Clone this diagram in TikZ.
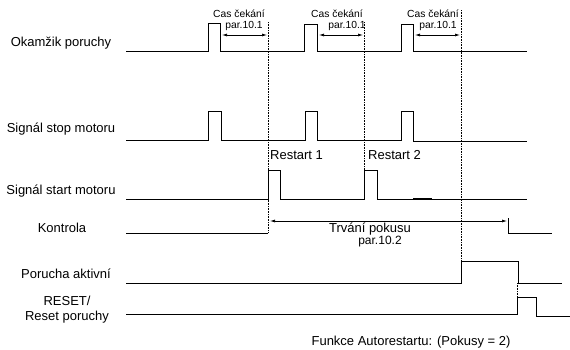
\documentclass[tikz,border=0pt]{standalone}
\usepackage{fontspec}
\setmainfont{Liberation Sans}
\usetikzlibrary{arrows.meta}

\begin{document}
\begin{tikzpicture}[
  x=1pt, y=-1pt,
  sig/.style={line width=0.9pt, line join=miter},
  guide/.style={densely dotted, line width=0.6pt},
  dimarr/.style={{Latex[length=5pt,width=3pt]}-{Latex[length=5pt,width=3pt]}, line width=0.7pt},
  lbl/.style={font=\fontsize{13}{15}\selectfont, align=center, inner sep=0pt},
  note/.style={font=\fontsize{10.3}{11}\selectfont, inner sep=0pt}
]
\useasboundingbox (0,0) rectangle (570,349);

% signal names
\node[lbl] (fault) at (61,43) {Okamžik poruchy};
\node[lbl] (stop) at (61,129) {Signál stop motoru};
\node[lbl] (start) at (61,191) {Signál start motoru};
\node[lbl] (check) at (62,228) {Kontrola};
\node[lbl] (active) at (66,274) {Porucha aktivní};
\node[lbl] (reset) at (67,310) {RESET/\\Reset poruchy};

% guide lines
\draw[guide] (268,22) -- (268,233);
\draw[guide] (364,22) -- (364,170);
\draw[guide] (461,10) -- (461,261);
\draw[guide] (517,283) -- (517,297);

% waveforms
\draw[sig] (126,51.5) -- (208,51.5) -- (208,23) -- (220,23) -- (220,51.5)
  -- (304,51.5) -- (304,24) -- (317,24) -- (317,51.5)
  -- (401,51.5) -- (401,24) -- (413,24) -- (413,51.5) -- (527,51.5);
\draw[sig] (126,140) -- (208,140) -- (208,111) -- (221,111) -- (221,140)
  -- (305,140) -- (305,111) -- (317,111) -- (317,140)
  -- (401,140) -- (401,111) -- (413,111) -- (413,141) -- (527,141);
\draw[sig] (126,199) -- (268,199) -- (268,170) -- (280,170) -- (280,199)
  -- (364,199) -- (364,170) -- (377,170) -- (377,199) -- (527,199);
\draw[line width=1.6pt] (413,199) -- (432,199);
\draw[sig] (126,233) -- (268,233);
\draw[sig] (508,218) -- (508,233) -- (552,233);
\draw[sig] (126,283) -- (461,283) -- (461,261) -- (518,261) -- (518,283) -- (562,283);
\draw[sig] (126,314) -- (517,314) -- (517,297) -- (536,297) -- (536,316) -- (570,316);

% waiting times
\draw[dimarr] (222,35) -- (267,35);
\draw[dimarr] (319,35) -- (363,35);
\draw[dimarr] (415,35) -- (460,35);
\node[note] (wait1) at (239,14) {Cas čekání};
\node[note] (par1) at (244,26) {par.10.1};
\node[note] (wait2) at (337,14) {Cas čekání};
\node[note] (par2) at (347,26) {par.10.1};
\node[note] (wait3) at (433,14) {Cas čekání};
\node[note] (par3) at (438,26) {par.10.1};

% restarts
\node[lbl, anchor=west] (rst1) at (270,155) {Restart 1};
\node[lbl, anchor=west] (rst2) at (368,155) {Restart 2};

% trial time
\draw[dimarr] (270,221) -- (507,221);
\node[lbl] (trial) at (370,229) {Trvání pokusu};
\node[note, font=\fontsize{12}{13}\selectfont] (par4) at (380,242) {par.10.2};

\node[lbl] (caption) at (411,342) {Funkce Autorestartu: (Pokusy = 2)};
\end{tikzpicture}
\end{document}
